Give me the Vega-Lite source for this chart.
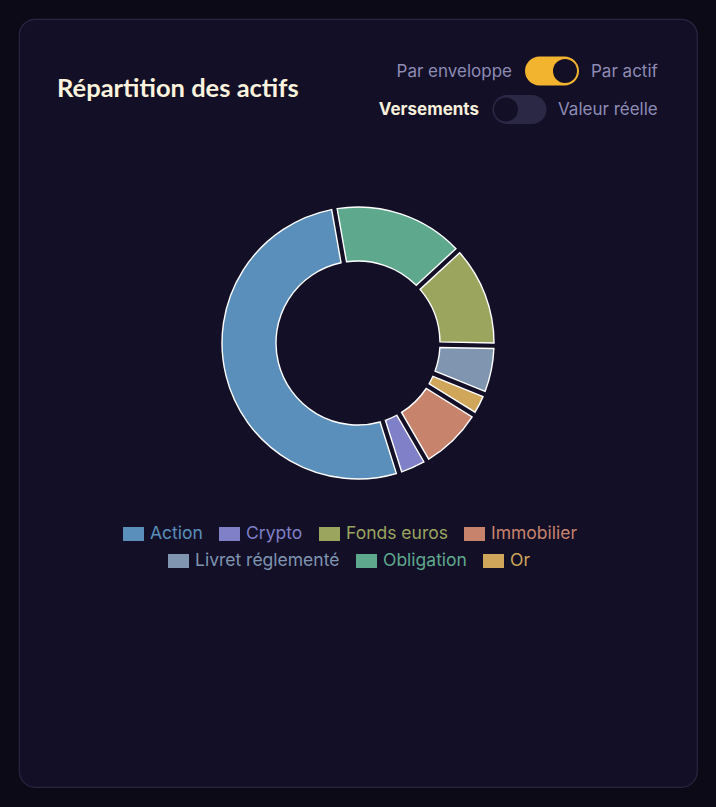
{
  "$schema": "https://vega.github.io/schema/vega-lite/v6.json",
  "width": 678,
  "height": 768,
  "autosize": {"type": "none"},
  "padding": {"left": 19, "top": 19, "right": 19, "bottom": 20},
  "background": "#0c0a17",
  "title": {
    "text": "Répartition des actifs",
    "anchor": "start",
    "frame": "group",
    "orient": "top",
    "offset": 0,
    "baseline": "alphabetic",
    "dx": 38,
    "dy": 103,
    "font": "Lato",
    "fontSize": 25.5,
    "fontWeight": "bold",
    "color": "#fbf3dd"
  },
  "datasets": {
    "actifs": [
      {"actif": "Obligation", "part": 15.9, "rang": 1},
      {"actif": "Fonds euros", "part": 12.2, "rang": 2},
      {"actif": "Livret réglementé", "part": 5.8, "rang": 3},
      {"actif": "Or", "part": 2.7, "rang": 4},
      {"actif": "Immobilier", "part": 7.8, "rang": 5},
      {"actif": "Crypto", "part": 3.5, "rang": 6},
      {"actif": "Action", "part": 52.1, "rang": 7}
    ],
    "commandes": [
      {"ligne": "vue", "gauche": "Par enveloppe", "droite": "Par actif", "etat": "on", "accent": false},
      {"ligne": "montant", "gauche": "Versements", "droite": "Valeur réelle", "etat": "off", "accent": true}
    ]
  },
  "layer": [
    {
      "data": {"name": "actifs"},
      "mark": {
        "type": "arc",
        "outerRadius": 136,
        "innerRadius": 82,
        "padAngle": 0.035,
        "stroke": "#ffffff",
        "strokeWidth": 1.4,
        "y": {"expr": "height / 2 - 60"}
      },
      "encoding": {
        "theta": {"field": "part", "type": "quantitative", "stack": true, "scale": {"range": [-0.1745, 6.1087]}},
        "order": {"field": "rang", "type": "quantitative"},
        "color": {
          "field": "actif",
          "type": "nominal",
          "scale": {
            "domain": ["Action", "Crypto", "Fonds euros", "Immobilier", "Livret réglementé", "Obligation", "Or"],
            "range": ["#5b8fbb", "#7f80c8", "#9ba55e", "#c8836c", "#7f95b0", "#5ea98d", "#d0a75a"]
          },
          "legend": null
        }
      }
    },
    {
      "data": {"name": "actifs"},
      "mark": {"type": "point", "filled": true, "opacity": 0},
      "encoding": {
        "color": {
          "field": "actif",
          "type": "nominal",
          "scale": {
            "domain": ["Action", "Crypto", "Fonds euros", "Immobilier", "Livret réglementé", "Obligation", "Or"],
            "range": ["#5b8fbb", "#7f80c8", "#9ba55e", "#c8836c", "#7f95b0", "#5ea98d", "#d0a75a"]
          },
          "legend": {
            "values": ["Action", "Crypto", "Fonds euros", "Immobilier"],
            "orient": "none",
            "legendX": 104,
            "legendY": 504.5,
            "direction": "horizontal",
            "title": null,
            "padding": 0,
            "symbolType": "M-1,-0.667H1V0.667H-1Z",
            "symbolSize": 441,
            "symbolStrokeWidth": 0,
            "symbolOpacity": 1,
            "labelFont": "Inter",
            "labelFontSize": 17.5,
            "labelOffset": 6,
            "columnPadding": 16,
            "encode": {"labels": {"update": {"fill": {"signal": "['#5b8fbb','#7f80c8','#9ba55e','#c8836c','#7f95b0','#5ea98d','#d0a75a'][indexof(['Action','Crypto','Fonds euros','Immobilier','Livret réglementé','Obligation','Or'], datum.value)]"}}}}
          }
        }
      }
    },
    {
      "data": {"name": "actifs"},
      "mark": {"type": "point", "filled": true, "opacity": 0},
      "encoding": {
        "color": {
          "field": "actif",
          "type": "nominal",
          "scale": {
            "domain": ["Action", "Crypto", "Fonds euros", "Immobilier", "Livret réglementé", "Obligation", "Or"],
            "range": ["#5b8fbb", "#7f80c8", "#9ba55e", "#c8836c", "#7f95b0", "#5ea98d", "#d0a75a"]
          },
          "legend": {
            "values": ["Livret réglementé", "Obligation", "Or"],
            "orient": "none",
            "legendX": 149,
            "legendY": 531.5,
            "direction": "horizontal",
            "title": null,
            "padding": 0,
            "symbolType": "M-1,-0.667H1V0.667H-1Z",
            "symbolSize": 441,
            "symbolStrokeWidth": 0,
            "symbolOpacity": 1,
            "labelFont": "Inter",
            "labelFontSize": 17.5,
            "labelOffset": 6,
            "columnPadding": 16,
            "encode": {"labels": {"update": {"fill": {"signal": "['#5b8fbb','#7f80c8','#9ba55e','#c8836c','#7f95b0','#5ea98d','#d0a75a'][indexof(['Action','Crypto','Fonds euros','Immobilier','Livret réglementé','Obligation','Or'], datum.value)]"}}}}
          }
        }
      }
    },
    {
      "data": {"name": "commandes"},
      "mark": {"type": "text", "align": "right", "baseline": "middle", "font": "Inter", "fontSize": 17, "fontWeight": {"expr": "datum.accent ? 'bold' : 'normal'"}},
      "encoding": {
        "x": {"field": "ligne", "type": "nominal", "scale": {"domain": ["vue", "montant"], "range": [493, 460], "padding": 0}, "axis": null},
        "y": {"field": "ligne", "type": "nominal", "scale": {"domain": ["vue", "montant"], "range": [52.5, 90.5], "padding": 0}, "axis": null},
        "text": {"field": "gauche"},
        "color": {"condition": {"test": "datum.accent", "value": "#f7f0da"}, "value": "#8e8cb4"}
      }
    },
    {
      "data": {"name": "commandes"},
      "mark": {"type": "text", "align": "left", "baseline": "middle", "font": "Inter", "fontSize": 17, "color": "#8e8cb4"},
      "encoding": {
        "x": {"field": "ligne", "type": "nominal", "scale": {"domain": ["vue", "montant"], "range": [572, 539], "padding": 0}, "axis": null},
        "y": {"field": "ligne", "type": "nominal", "scale": {"domain": ["vue", "montant"], "range": [52.5, 90.5], "padding": 0}, "axis": null},
        "text": {"field": "droite"}
      }
    },
    {
      "data": {"name": "commandes"},
      "mark": {
        "type": "point",
        "filled": true,
        "opacity": 1,
        "size": 2916,
        "shape": "M-0.463,-0.537L0.463,-0.537A0.537,0.537 0 0 1 0.463,0.537L-0.463,0.537A0.537,0.537 0 0 1 -0.463,-0.537Z"
      },
      "encoding": {
        "x": {"field": "ligne", "type": "nominal", "scale": {"domain": ["vue", "montant"], "range": [533, 500.5], "padding": 0}, "axis": null},
        "y": {"field": "ligne", "type": "nominal", "scale": {"domain": ["vue", "montant"], "range": [52, 90.5], "padding": 0}, "axis": null},
        "color": {"condition": {"test": "datum.etat === 'on'", "value": "#f2b42e"}, "value": "#2b2846"}
      }
    },
    {
      "data": {"name": "commandes"},
      "mark": {"type": "point", "filled": true, "opacity": 1, "size": 576, "shape": "circle", "color": "#130f26"},
      "encoding": {
        "x": {"field": "ligne", "type": "nominal", "scale": {"domain": ["vue", "montant"], "range": [546, 487], "padding": 0}, "axis": null},
        "y": {"field": "ligne", "type": "nominal", "scale": {"domain": ["vue", "montant"], "range": [52, 90.5], "padding": 0}, "axis": null}
      }
    }
  ],
  "resolve": {
    "scale": {"color": "independent", "x": "independent", "y": "independent", "theta": "independent"},
    "legend": {"color": "independent"}
  },
  "config": {
    "font": "Inter",
    "view": {"fill": "#130f27", "stroke": "#2a2641", "strokeWidth": 1.2, "cornerRadius": 16}
  }
}
